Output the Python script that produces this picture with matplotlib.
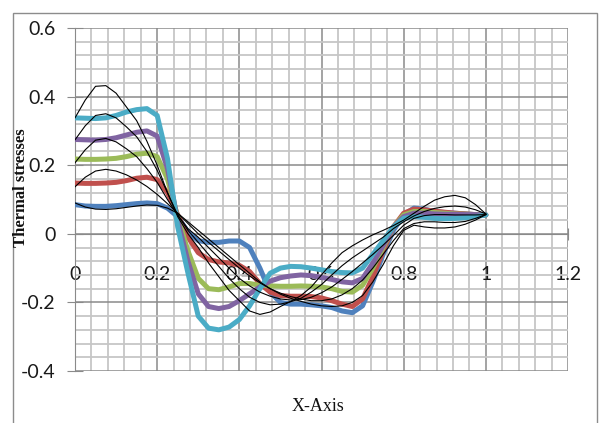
import matplotlib
matplotlib.use("Agg")
import matplotlib.pyplot as plt
from matplotlib.ticker import MultipleLocator, FixedLocator
from matplotlib.patches import Rectangle

x = [0, .025, .05, .075, .1, .125, .15, .175, .2, .225, .25, .275, .3, .325, .35,
     .375, .4, .425, .45, .475, .5, .525, .55, .575, .6, .625, .65, .675, .7, .725,
     .75, .775, .8, .825, .85, .875, .9, .925, .95, .975, 1.0]

blue = [0.085, 0.081, 0.080, 0.080, 0.082, 0.085, 0.088, 0.090, 0.088, 0.075, 0.050,
        0.005, -0.020, -0.025, -0.025, -0.021, -0.021, -0.040, -0.100, -0.170, -0.200,
        -0.205, -0.205, -0.207, -0.210, -0.215, -0.225, -0.230, -0.210, -0.140, -0.060,
        0.010, 0.055, 0.075, 0.072, 0.065, 0.062, 0.060, 0.058, 0.056, 0.055]
red = [0.148, 0.147, 0.147, 0.148, 0.150, 0.155, 0.162, 0.165, 0.158, 0.120, 0.055,
       -0.010, -0.055, -0.075, -0.082, -0.085, -0.092, -0.110, -0.145, -0.170, -0.180,
       -0.182, -0.182, -0.183, -0.187, -0.195, -0.205, -0.212, -0.190, -0.125, -0.050,
       0.020, 0.060, 0.072, 0.070, 0.066, 0.063, 0.060, 0.058, 0.056, 0.055]
green = [0.218, 0.217, 0.217, 0.218, 0.220, 0.225, 0.232, 0.235, 0.225, 0.160, 0.050,
         -0.050, -0.130, -0.160, -0.163, -0.155, -0.145, -0.145, -0.150, -0.152, -0.153,
         -0.153, -0.152, -0.153, -0.155, -0.160, -0.168, -0.170, -0.150, -0.100, -0.040,
         0.020, 0.055, 0.065, 0.065, 0.062, 0.060, 0.058, 0.057, 0.056, 0.055]
purple = [0.275, 0.274, 0.273, 0.275, 0.280, 0.288, 0.296, 0.300, 0.285, 0.190, 0.040,
          -0.080, -0.175, -0.212, -0.218, -0.212, -0.195, -0.175, -0.155, -0.138, -0.128,
          -0.123, -0.120, -0.122, -0.127, -0.133, -0.140, -0.143, -0.130, -0.085, -0.035,
          0.020, 0.050, 0.060, 0.060, 0.058, 0.057, 0.057, 0.056, 0.056, 0.055]
cyan = [0.338, 0.337, 0.336, 0.338, 0.345, 0.355, 0.362, 0.365, 0.345, 0.220, 0.020,
        -0.115, -0.240, -0.275, -0.280, -0.272, -0.250, -0.210, -0.160, -0.115, -0.100,
        -0.095, -0.096, -0.100, -0.105, -0.110, -0.113, -0.114, -0.100, -0.060, -0.020,
        0.020, 0.045, 0.050, 0.048, 0.045, 0.044, 0.045, 0.047, 0.050, 0.055]

b1 = [0.338, 0.390, 0.430, 0.432, 0.410, 0.370, 0.330, 0.270, 0.200, 0.120, 0.050,
      0.000, -0.040, -0.085, -0.125, -0.165, -0.195, -0.225, -0.235, -0.228, -0.212,
      -0.197, -0.180, -0.155, -0.120, -0.085, -0.055, -0.035, -0.018, -0.003, 0.010,
      0.024, 0.040, 0.060, 0.080, 0.098, 0.108, 0.112, 0.105, 0.085, 0.058]
b2 = [0.274, 0.315, 0.345, 0.350, 0.338, 0.312, 0.283, 0.240, 0.185, 0.120, 0.055,
      0.010, -0.025, -0.060, -0.095, -0.130, -0.160, -0.185, -0.200, -0.207, -0.205,
      -0.198, -0.188, -0.170, -0.148, -0.120, -0.093, -0.070, -0.050, -0.030, -0.010,
      0.015, 0.035, 0.052, 0.065, 0.074, 0.079, 0.081, 0.078, 0.070, 0.058]
b3 = [0.207, 0.245, 0.273, 0.278, 0.268, 0.248, 0.225, 0.190, 0.150, 0.100, 0.055,
      0.015, -0.010, -0.040, -0.070, -0.100, -0.130, -0.152, -0.170, -0.182, -0.190,
      -0.193, -0.192, -0.185, -0.172, -0.155, -0.133, -0.110, -0.085, -0.060, -0.033,
      -0.005, 0.025, 0.045, 0.053, 0.056, 0.056, 0.055, 0.055, 0.055, 0.056]
b4 = [0.137, 0.165, 0.183, 0.188, 0.183, 0.172, 0.157, 0.138, 0.115, 0.088, 0.060,
      0.030, 0.000, -0.025, -0.050, -0.075, -0.100, -0.123, -0.143, -0.160, -0.173,
      -0.183, -0.190, -0.195, -0.195, -0.190, -0.178, -0.160, -0.135, -0.100, -0.060,
      -0.020, 0.015, 0.030, 0.035, 0.035, 0.033, 0.033, 0.036, 0.045, 0.056]
b5 = [0.090, 0.078, 0.072, 0.071, 0.073, 0.077, 0.081, 0.084, 0.083, 0.075, 0.060,
      0.035, 0.010, -0.015, -0.040, -0.065, -0.090, -0.115, -0.140, -0.160, -0.176,
      -0.188, -0.197, -0.205, -0.210, -0.212, -0.210, -0.200, -0.180, -0.140, -0.090,
      -0.035, 0.010, 0.025, 0.020, 0.017, 0.017, 0.020, 0.028, 0.040, 0.056]

colored = [blue, red, green, purple, cyan]
colored_colors = ["#4F81BD", "#C0504D", "#9BBB59", "#8064A2", "#4BACC6"]
blacks = [b1, b2, b3, b4, b5]

xticks = [0, 0.2, 0.4, 0.6, 0.8, 1.0, 1.2]
xticklabels = ["0", "0.2", "0.4", "0.6", "0.8", "1", "1.2"]
yticks = [-0.4, -0.2, 0, 0.2, 0.4, 0.6]
yticklabels = ["-0.4", "-0.2", "0", "0.2", "0.4", "0.6"]

fig = plt.figure(figsize=(6.0, 4.23), dpi=100)
fig.patches.append(Rectangle((13/600, -0.05), (597-13)/600, 1.05 - 13/423,
                             transform=fig.transFigure, fill=False,
                             edgecolor="#8c8c8c", linewidth=1.0))
ax = fig.add_axes([75/600, 1 - 371/423, (568-75)/600, (371-28)/423])
ax.set_xlim(0, 1.2)
ax.set_ylim(-0.4, 0.6)

ax.xaxis.set_major_locator(FixedLocator(xticks))
ax.yaxis.set_major_locator(FixedLocator(yticks))
ax.xaxis.set_minor_locator(MultipleLocator(0.04))
ax.yaxis.set_minor_locator(MultipleLocator(0.04))
ax.grid(which="minor", color="#c6c6c6", linewidth=1.3, zorder=0)
ax.grid(which="major", color="#8a8a8a", linewidth=1.1, zorder=0)
ax.set_axisbelow(True)

for s in ["top", "right"]:
    ax.spines[s].set_visible(False)
ax.spines["left"].set_position(("data", 0))
ax.spines["bottom"].set_position(("data", 0))
ax.spines["left"].set_color("#8a8a8a")
ax.spines["bottom"].set_color("#8a8a8a")

tick_font = dict(family="Lato", size=14, color="#1a1a1a")
ax.set_xticklabels(xticklabels, **tick_font)
ax.set_yticklabels(yticklabels, **tick_font)
ax.tick_params(axis="x", which="major", direction="inout", length=8, color="#8a8a8a", pad=19)
ax.tick_params(axis="y", which="major", direction="inout", length=12, color="#8a8a8a", pad=8)
ax.tick_params(which="minor", length=0)

for ys, c in zip(colored, colored_colors):
    ax.plot(x, ys, color=c, linewidth=3.6, solid_capstyle="round",
            solid_joinstyle="round", zorder=3)
for ys in blacks:
    ax.plot(x, ys, color="black", linewidth=0.8, zorder=4)

fig.text(318/600, 1 - 406/423, "X-Axis", family="Liberation Serif", size=13,
         ha="center", va="center", color="#111111")
fig.text(21/600, 1 - 188/423, "Thermal stresses", family="Liberation Serif",
         weight="bold", size=12, rotation=90, ha="center", va="center", color="#111111")

fig.savefig("out.png", dpi=100)
